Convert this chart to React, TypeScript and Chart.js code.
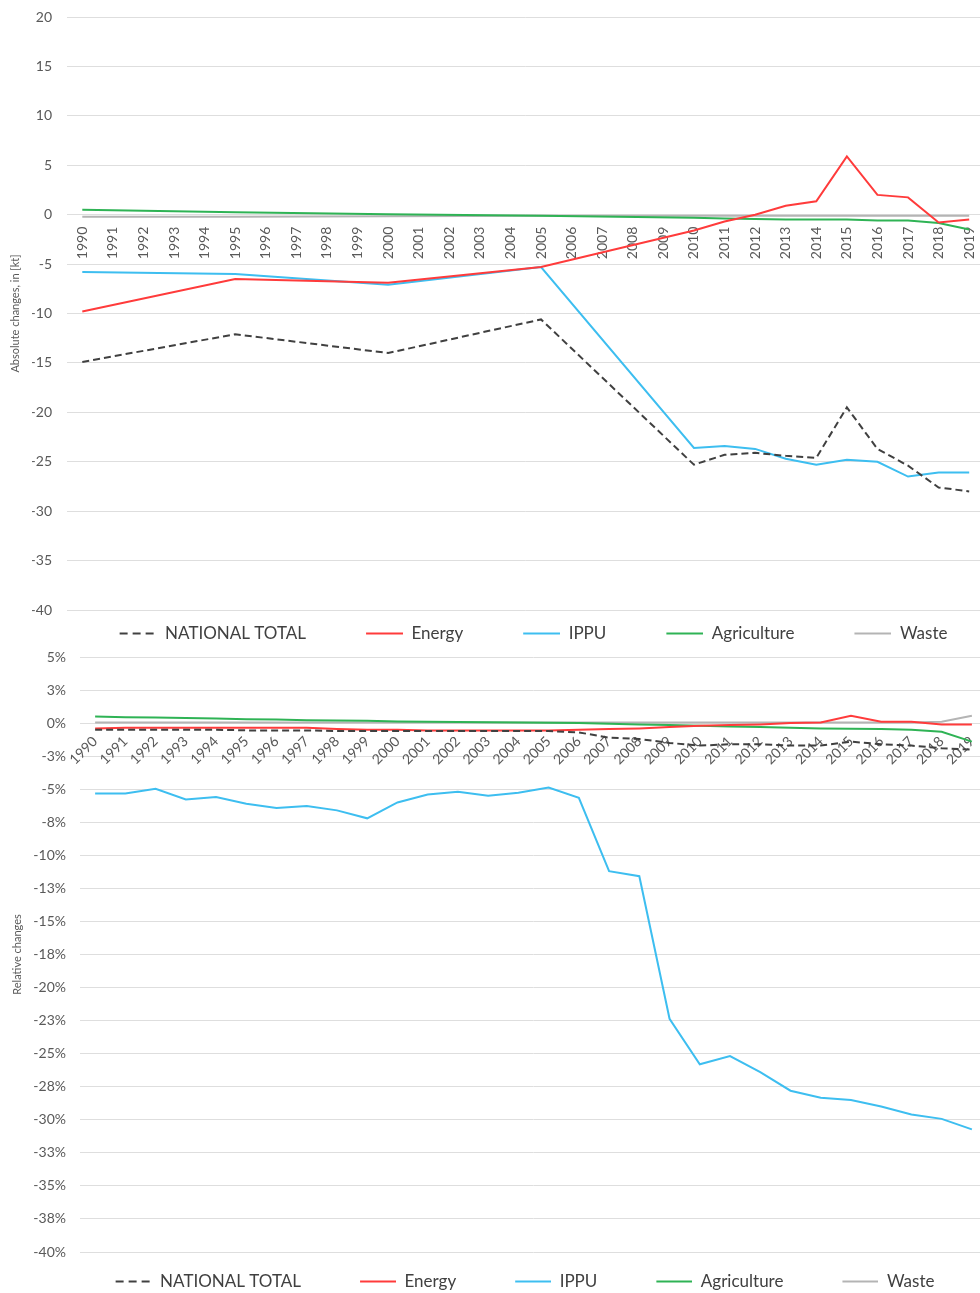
import React, { useEffect, useRef } from 'react';
import { Chart, registerables } from 'chart.js';

Chart.register(...registerables);

const YEARS = ['1990','1991','1992','1993','1994','1995','1996','1997','1998','1999','2000','2001','2002','2003','2004','2005','2006','2007','2008','2009','2010','2011','2012','2013','2014','2015','2016','2017','2018','2019'];

const SERIES_NAMES = ['NATIONAL TOTAL', 'Energy', 'IPPU', 'Agriculture', 'Waste'];
const SERIES_COLORS = ['#404040', '#ff3b3b', '#3dbef0', '#2fb355', '#b4b4b4'];

// Absolute changes, kt (values only for the years shown in the source)
const ABS_NATIONAL = [-14.9, null, null, null, null, -12.1, null, null, null, null, -14.0, null, null, null, null, -10.6, null, null, null, null, -25.3, -24.3, -24.1, -24.4, -24.6, -19.5, -23.7, -25.4, -27.6, -28.0];
const ABS_ENERGY = [-9.8, null, null, null, null, -6.5, null, null, null, null, -6.9, null, null, null, null, -5.3, null, null, null, null, -1.6, -0.7, 0.0, 0.9, 1.35, 5.9, 2.0, 1.75, -0.8, -0.5];
const ABS_IPPU = [-5.8, null, null, null, null, -6.0, null, null, null, null, -7.1, null, null, null, null, -5.3, null, null, null, null, -23.6, -23.4, -23.7, -24.7, -25.3, -24.8, -25.0, -26.5, -26.1, -26.1];
const ABS_AGRICULTURE = [0.5, null, null, null, null, 0.25, null, null, null, null, 0.05, null, null, null, null, -0.1, null, null, null, null, -0.3, -0.4, -0.45, -0.5, -0.5, -0.5, -0.6, -0.6, -0.85, -1.5];
const ABS_WASTE = [-0.2, null, null, null, null, -0.2, null, null, null, null, -0.15, null, null, null, null, -0.1, null, null, null, null, -0.1, -0.1, -0.1, -0.1, -0.1, -0.1, -0.1, -0.1, -0.1, -0.1];

// Relative changes, %
const REL_NATIONAL = [-0.5, -0.5, -0.5, -0.5, -0.5, -0.55, -0.55, -0.55, -0.6, -0.6, -0.6, -0.6, -0.6, -0.6, -0.6, -0.6, -0.7, -1.1, -1.2, -1.5, -1.7, -1.6, -1.6, -1.7, -1.7, -1.4, -1.6, -1.7, -1.9, -2.0];
const REL_ENERGY = [-0.4, -0.35, -0.35, -0.35, -0.35, -0.35, -0.35, -0.35, -0.45, -0.5, -0.5, -0.55, -0.55, -0.55, -0.55, -0.55, -0.5, -0.45, -0.4, -0.3, -0.2, -0.15, -0.1, 0.0, 0.05, 0.55, 0.1, 0.1, -0.1, -0.1];
const REL_IPPU = [-5.33, -5.33, -4.96, -5.77, -5.59, -6.1, -6.42, -6.27, -6.6, -7.2, -6.0, -5.4, -5.2, -5.5, -5.27, -4.87, -5.65, -11.2, -11.58, -22.36, -25.8, -25.18, -26.4, -27.8, -28.34, -28.5, -29.0, -29.6, -29.93, -30.73];
const REL_AGRICULTURE = [0.5, 0.45, 0.42, 0.38, 0.35, 0.3, 0.28, 0.22, 0.2, 0.18, 0.12, 0.1, 0.08, 0.06, 0.05, 0.03, 0.0, -0.05, -0.1, -0.15, -0.2, -0.25, -0.3, -0.35, -0.4, -0.42, -0.45, -0.5, -0.65, -1.4];
const REL_WASTE = [0.05, 0.05, 0.05, 0.05, 0.05, 0.05, 0.05, 0.05, 0.05, 0.05, 0.05, 0.05, 0.05, 0.05, 0.05, 0.05, 0.05, 0.05, 0.05, 0.05, 0.05, 0.05, 0.05, 0.05, 0.05, 0.05, 0.05, 0.05, 0.1, 0.55];

const TEXT_COLOR = '#595959';
const GRID_COLOR = '#dedede';

function legendImage(color: string, dash: number[], gap: number, len: number) {
  const c = document.createElement('canvas');
  c.width = gap + len;
  c.height = 4;
  const ctx = c.getContext('2d')!;
  ctx.strokeStyle = color;
  ctx.lineWidth = 2;
  ctx.setLineDash(dash);
  ctx.beginPath();
  ctx.moveTo(gap, 2);
  ctx.lineTo(gap + len, 2);
  ctx.stroke();
  return c;
}

type Cfg = {
  series: (number | null)[][];
  yMin: number;
  yMax: number;
  step: number;
  fmt: (v: number) => string;
  title: string;
  areaLeft: number;
  padLeft: number;
  titleX: number;
  yPad: number;
  rotation: number;
  xPad: number;
  padTop: number;
  legendPad: number;
  gap: number;
  len: number;
  spanGaps: boolean;
};

function buildConfig(c: Cfg): any {
  const imgs = SERIES_NAMES.map((_, i) =>
    legendImage(SERIES_COLORS[i], i === 0 ? [8, 5] : [], c.gap, c.len)
  );
  const titleFont = { family: 'Lato', size: 11, lineHeight: 1.2 };
  const titlePadTop = c.titleX - c.padLeft - (titleFont.size * titleFont.lineHeight) / 2;
  return {
    type: 'line',
    data: {
      labels: YEARS,
      datasets: SERIES_NAMES.map((name, i) => ({
        label: name,
        data: c.series[i],
        borderColor: SERIES_COLORS[i],
        backgroundColor: SERIES_COLORS[i],
        borderWidth: 2,
        borderDash: i === 0 ? [7, 4] : [],
        pointRadius: 0,
        pointHoverRadius: 0,
        tension: 0,
        fill: false,
        spanGaps: c.spanGaps,
      })),
    },
    options: {
      responsive: false,
      animation: false,
      layout: { padding: { top: c.padTop, left: c.padLeft, right: 0, bottom: 0 } },
      plugins: {
        tooltip: { enabled: false },
        legend: {
          position: 'bottom',
          labels: {
            usePointStyle: true,
            pointStyleWidth: c.gap + c.len,
            padding: c.legendPad,
            color: '#404040',
            font: { family: 'Lato', size: 17 },
            generateLabels: (chart: any) => {
              const items = (Chart as any).defaults.plugins.legend.labels.generateLabels(chart);
              return items.map((it: any) => ({ ...it, pointStyle: imgs[it.datasetIndex] }));
            },
          },
        },
      },
      scales: {
        x: {
          type: 'category',
          position: { y: 0 },
          offset: true,
          grid: { display: false },
          border: { display: false },
          ticks: {
            autoSkip: false,
            minRotation: c.rotation,
            maxRotation: c.rotation,
            padding: c.xPad,
            color: TEXT_COLOR,
            font: { family: 'Lato', size: 14 },
          },
        },
        y: {
          min: c.yMin,
          max: c.yMax,
          ticks: {
            stepSize: c.step,
            padding: c.yPad,
            color: TEXT_COLOR,
            font: { family: 'Lato', size: 14 },
            callback: (v: any) => c.fmt(Number(v)),
          },
          grid: { color: GRID_COLOR, lineWidth: 1, drawTicks: false },
          border: { display: false },
          title: {
            display: true,
            text: c.title,
            color: TEXT_COLOR,
            font: titleFont,
            padding: { top: titlePadTop, bottom: 0 },
          },
          afterFit: (s: any) => {
            s.width = c.areaLeft - c.padLeft;
            s.paddingTop = 0;
            s.paddingBottom = 0;
          },
        },
      },
    },
  };
}

function ChartBox(props: { cfg: Cfg; top: number; width: number; height: number }) {
  const ref = useRef<HTMLCanvasElement>(null);
  useEffect(() => {
    if (!ref.current) return;
    const chart = new Chart(ref.current, buildConfig(props.cfg));
    return () => chart.destroy();
  }, []);
  return (
    <canvas
      ref={ref}
      width={props.width}
      height={props.height}
      style={{ position: 'absolute', left: 0, top: props.top, display: 'block', width: props.width, height: props.height }}
    />
  );
}

const absFmt = (v: number) => String(v);
const relFmt = (v: number) => {
  const r = Math.sign(v) * Math.round(Math.abs(v));
  return (r === 0 ? 0 : r) + '%';
};

export default function App() {
  const topCfg: Cfg = {
    series: [ABS_NATIONAL, ABS_ENERGY, ABS_IPPU, ABS_AGRICULTURE, ABS_WASTE],
    yMin: -40,
    yMax: 20,
    step: 5,
    fmt: absFmt,
    title: 'Absolute changes, in [kt]',
    areaLeft: 67,
    padLeft: 32,
    titleX: 15,
    yPad: 15,
    rotation: 90,
    xPad: 4,
    padTop: 17,
    legendPad: 15,
    gap: 45,
    len: 37,
    spanGaps: true,
  };
  const bottomCfg: Cfg = {
    series: [REL_NATIONAL, REL_ENERGY, REL_IPPU, REL_AGRICULTURE, REL_WASTE],
    yMin: -40,
    yMax: 5,
    step: 2.5,
    fmt: relFmt,
    title: 'Relative changes',
    areaLeft: 80,
    padLeft: 25,
    titleX: 17,
    yPad: 14,
    rotation: 45,
    xPad: 2,
    padTop: 9,
    legendPad: 21,
    gap: 38,
    len: 36,
    spanGaps: false,
  };
  return (
    <div style={{ position: 'absolute', left: 0, top: 0, width: 980, height: 1293, overflow: 'hidden', background: '#ffffff' }}>
      <ChartBox cfg={topCfg} top={0} width={990} height={652} />
      <ChartBox cfg={bottomCfg} top={648} width={987} height={652} />
    </div>
  );
}
